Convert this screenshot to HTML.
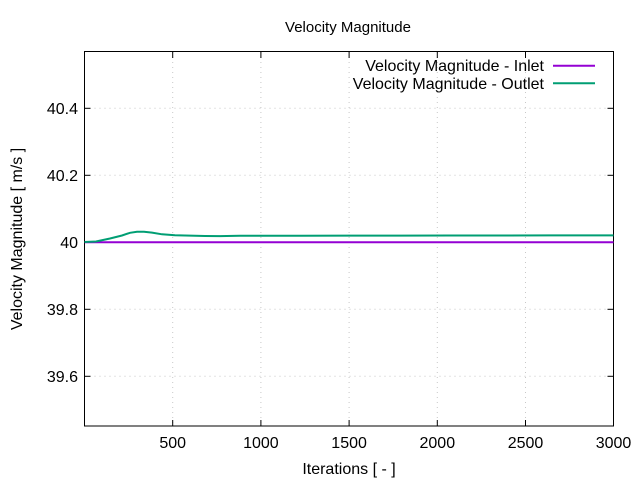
<!DOCTYPE html>
<html><head><meta charset="utf-8"><style>
body{margin:0;background:#fff}
svg{display:block;font-family:"Liberation Sans",sans-serif}
</style></head><body>
<svg width="640" height="480" xmlns="http://www.w3.org/2000/svg">
<rect width="640" height="480" fill="#fff"/>
<g stroke="#c8c8c8" stroke-width="1" stroke-dasharray="1,4">
<line x1="172.7" y1="52" x2="172.7" y2="426"/>
<line x1="260.9" y1="52" x2="260.9" y2="426"/>
<line x1="349.1" y1="52" x2="349.1" y2="426"/>
<line x1="437.3" y1="52" x2="437.3" y2="426"/>
<line x1="525.5" y1="52" x2="525.5" y2="426"/>
<line x1="84.5" y1="108.3" x2="613.5" y2="108.3"/>
<line x1="84.5" y1="175.3" x2="613.5" y2="175.3"/>
<line x1="84.5" y1="242" x2="613.5" y2="242"/>
<line x1="84.5" y1="309.3" x2="613.5" y2="309.3"/>
<line x1="84.5" y1="376.3" x2="613.5" y2="376.3"/>
</g>
<g stroke="#000" stroke-width="1">
<line x1="172.7" y1="426" x2="172.7" y2="420"/><line x1="172.7" y1="52" x2="172.7" y2="58"/>
<line x1="260.9" y1="426" x2="260.9" y2="420"/><line x1="260.9" y1="52" x2="260.9" y2="58"/>
<line x1="349.1" y1="426" x2="349.1" y2="420"/><line x1="349.1" y1="52" x2="349.1" y2="58"/>
<line x1="437.3" y1="426" x2="437.3" y2="420"/><line x1="437.3" y1="52" x2="437.3" y2="58"/>
<line x1="525.5" y1="426" x2="525.5" y2="420"/><line x1="525.5" y1="52" x2="525.5" y2="58"/>
<line x1="84.5" y1="108.3" x2="90.5" y2="108.3"/><line x1="613.5" y1="108.3" x2="607.5" y2="108.3"/>
<line x1="84.5" y1="175.3" x2="90.5" y2="175.3"/><line x1="613.5" y1="175.3" x2="607.5" y2="175.3"/>
<line x1="84.5" y1="242" x2="90.5" y2="242"/><line x1="613.5" y1="242" x2="607.5" y2="242"/>
<line x1="84.5" y1="309.3" x2="90.5" y2="309.3"/><line x1="613.5" y1="309.3" x2="607.5" y2="309.3"/>
<line x1="84.5" y1="376.3" x2="90.5" y2="376.3"/><line x1="613.5" y1="376.3" x2="607.5" y2="376.3"/>
</g>
<rect x="84.5" y="51.5" width="529" height="374.5" fill="none" stroke="#000" stroke-width="1"/>
<line x1="84.5" y1="242.3" x2="613.5" y2="242.3" stroke="#9400d3" stroke-width="2"/>
<path d="M84.5,242 L96,241.5 L110,238.5 L122,235.5 L130,232.8 L137,231.8 L144,231.7 L152,232.6 L162,234.3 L175,235.2 L190,235.6 L205,236 L220,236.1 L240,235.8 L260,235.7 L300,235.8 L350,235.6 L400,235.6 L450,235.5 L500,235.5 L550,235.4 L613.5,235.4" fill="none" stroke="#009e73" stroke-width="2"/>
<g font-size="16" fill="#000">
<text x="78" y="114" text-anchor="end">40.4</text>
<text x="78" y="181" text-anchor="end">40.2</text>
<text x="78" y="248" text-anchor="end">40</text>
<text x="78" y="315" text-anchor="end">39.8</text>
<text x="78" y="382" text-anchor="end">39.6</text>
<text x="172.7" y="448" text-anchor="middle">500</text>
<text x="260.9" y="448" text-anchor="middle">1000</text>
<text x="349.1" y="448" text-anchor="middle">1500</text>
<text x="437.3" y="448" text-anchor="middle">2000</text>
<text x="525.5" y="448" text-anchor="middle">2500</text>
<text x="613.5" y="448" text-anchor="middle">3000</text>
<text x="349" y="474" text-anchor="middle">Iterations [ - ]</text>
<text x="22" y="239" text-anchor="middle" transform="rotate(-90 22 239)">Velocity Magnitude [ m/s ]</text>
<text x="544" y="71" text-anchor="end">Velocity Magnitude - Inlet</text>
<text x="544" y="89" text-anchor="end">Velocity Magnitude - Outlet</text>
<text x="348" y="32" text-anchor="middle" font-size="15">Velocity Magnitude</text>
</g>
<line x1="553" y1="65.7" x2="595" y2="65.7" stroke="#9400d3" stroke-width="2"/>
<line x1="553" y1="83.3" x2="595" y2="83.3" stroke="#009e73" stroke-width="2"/>
</svg>
</body></html>
